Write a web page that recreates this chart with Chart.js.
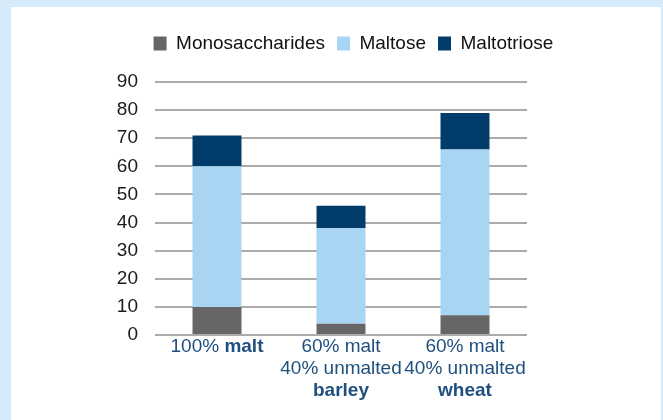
<!DOCTYPE html>
<html>
<head>
<meta charset="utf-8">
<script src="https://cdn.jsdelivr.net/npm/chart.js@4"></script>
<style>
    html, body { margin: 0; padding: 0; width: 663px; height: 420px; overflow: hidden; background: #d6eaf9; }
    .panel { position: absolute; left: 11px; top: 7px; width: 650px; height: 413px; background: #ffffff; }
    .wrap { position: absolute; left: 0; top: 0; width: 663px; height: 420px; }
</style>
</head>
<body>
<div class="panel"></div>
<div class="wrap"><canvas id="sugarChart" width="663" height="420"></canvas></div>
<script>
// categories, each label split into lines of [text, bold] parts
const categories = ['100% malt', '60% malt 40% unmalted barley', '60% malt 40% unmalted wheat'];
const categoryLines = [
    [[['100% ', false], ['malt', true]]],
    [[['60% malt', false]], [['40% unmalted', false]], [['barley', true]]],
    [[['60% malt', false]], [['40% unmalted', false]], [['wheat', true]]]
];
const monosaccharides = [10, 4, 7];
const maltose = [50, 34, 59];
const maltotriose = [11, 8, 13];
const yTicks = [0, 10, 20, 30, 40, 50, 60, 70, 80, 90];

const fontFamily = '"Liberation Sans", Arial, Helvetica, sans-serif';

// draws the x labels, some words bold
const xLabelsPlugin = {
    id: 'xLabels',
    afterDraw(chart) {
        const ctx = chart.ctx;
        const xScale = chart.scales.x;
        const lineY = [347, 369, 391];
        ctx.save();
        ctx.fillStyle = '#1f4f7e';
        ctx.textBaseline = 'middle';
        ctx.textAlign = 'left';
        for (let i = 0; i < categoryLines.length; i += 1) {
            const cx = xScale.getPixelForValue(i);
            categoryLines[i].forEach(function(parts, row) {
                let total = 0;
                parts.forEach(function(p) {
                    ctx.font = (p[1] ? 'bold ' : '') + '19px ' + fontFamily;
                    total += ctx.measureText(p[0]).width;
                });
                let x = cx - total / 2;
                parts.forEach(function(p) {
                    ctx.font = (p[1] ? 'bold ' : '') + '19px ' + fontFamily;
                    ctx.fillText(p[0], x, lineY[row]);
                    x += ctx.measureText(p[0]).width;
                });
            });
        }
        ctx.restore();
    }
};

// extra room under the legend
const legendSpace = {
    id: 'legendSpace',
    beforeInit(chart) {
        const origFit = chart.legend.fit;
        chart.legend.fit = function() {
            origFit.bind(chart.legend)();
            this.height += 19;
        };
    }
};

const ctx = document.getElementById('sugarChart').getContext('2d');
const myChart = new Chart(ctx, {
    type: 'bar',
    data: {
        labels: categories,
        datasets: [{
                label: 'Monosaccharides',
                data: monosaccharides,
                backgroundColor: '#666666',
            },
            {
                label: 'Maltose',
                data: maltose,
                backgroundColor: '#a8d5f3',
            },
            {
                label: 'Maltotriose',
                data: maltotriose,
                backgroundColor: '#023c6a',
            }
        ]
    },
    options: {
        responsive: false,
        animation: false,
        devicePixelRatio: 1,
        layout: {
            padding: { left: 44, right: 0, top: 22, bottom: 0 }
        },
        datasets: {
            bar: { categoryPercentage: 1, barPercentage: 0.395, borderWidth: 0 }
        },
        plugins: {
            legend: {
                position: 'top',
                labels: {
                    boxWidth: 13,
                    boxHeight: 14,
                    padding: 12,
                    color: '#111111',
                    font: { family: fontFamily, size: 19 }
                }
            },
            tooltip: { enabled: false }
        },
        scales: {
            x: {
                stacked: true,
                grid: { display: false },
                border: { display: false },
                ticks: { display: false },
                afterFit: function(scale) { scale.height = 85; }
            },
            y: {
                stacked: true,
                min: 0,
                max: 90,
                afterBuildTicks: function(scale) {
                    scale.ticks = yTicks.map(function(v) { return { value: v }; });
                },
                grid: { color: '#ababab', lineWidth: 2, drawTicks: false },
                border: { display: false },
                ticks: {
                    padding: 17,
                    color: '#1a1a1a',
                    font: { family: fontFamily, size: 19 }
                },
                afterFit: function(scale) { scale.width = 111; }
            },
            spacer: {
                type: 'linear',
                position: 'right',
                grid: { display: false },
                border: { display: false },
                ticks: { display: false },
                afterFit: function(scale) { scale.width = 136; }
            }
        }
    },
    plugins: [legendSpace, xLabelsPlugin]
});
</script>
</body>
</html>
